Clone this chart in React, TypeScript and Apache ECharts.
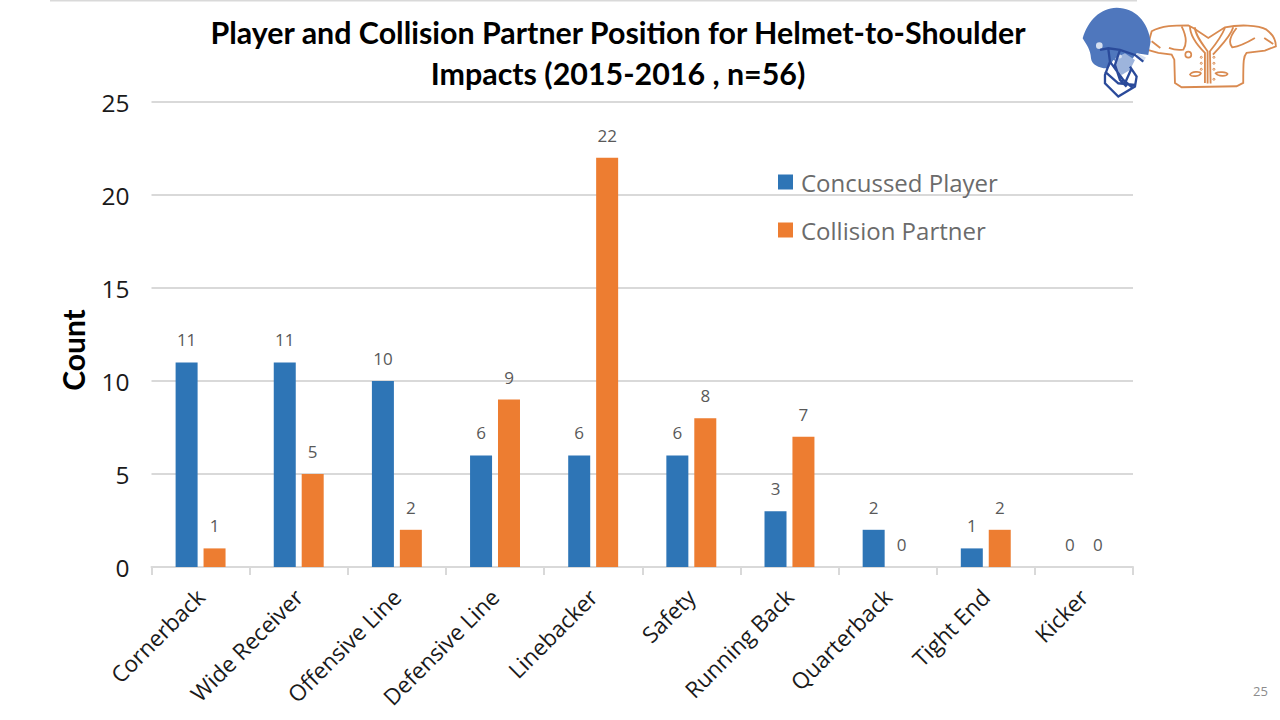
import React, { useEffect, useRef } from "react";
import * as echarts from "echarts";

const categories = ["Cornerback", "Wide Receiver", "Offensive Line", "Defensive Line", "Linebacker", "Safety", "Running Back", "Quarterback", "Tight End", "Kicker"];
const concussedPlayer = [11, 11, 10, 6, 6, 6, 3, 2, 1, 0];
const collisionPartner = [1, 5, 2, 9, 22, 8, 7, 0, 2, 0];
const titleLines = "Player and Collision Partner Position for Helmet-to-Shoulder\nImpacts (2015-2016 , n=56)";

const helmetDome = "M8 100 C25 45 60 10 110 8 C165 8 205 50 212 110 L205 150 L170 145 L140 185 L100 165 L85 190 C60 192 35 180 33 160 C32 135 20 120 8 100 Z";
const helmetShade = "M105 160 L135 145 L165 165 L150 195 L125 210 L105 190 Z";
const helmetSnaps = "M48 122 A10 10 0 1 0 68 122 A10 10 0 1 0 48 122 Z M172 145 L198 158 L190 172 L168 158 Z M112 155 A7 6 0 1 0 126 155 A7 6 0 1 0 112 155 Z";
const faceGuard = "M60 135 L85 130 L120 135 L165 150 L190 170 M85 132 L90 170 L75 210 L75 235 L115 275 L165 245 L170 215 L150 185 M75 200 L115 235 L165 240 M90 170 L130 225 L160 250 M120 135 L105 180 L120 225 L140 245 M155 190 L135 235";
const padsOutline = "M20 40 C50 22 90 22 130 22 L145 30 L190 60 L240 28 C280 20 340 20 365 35 C385 50 393 70 393 85 L360 98 L305 105 C296 115 295 125 295 195 L275 205 L110 208 L90 195 L88 125 L80 110 L40 105 L5 95 Z";
const padsDetail = "M135 25 C135 50 150 75 180 105 L180 195 M150 28 C150 50 170 75 188 100 L188 197 M240 30 C230 55 215 75 195 100 L197 197 M265 28 C255 60 225 85 204 110 M275 30 C255 55 250 75 262 88 C285 85 310 72 330 60 M385 78 L358 60 M110 25 C125 55 125 80 115 95 C100 97 85 95 72 90 M20 70 L46 90";
const padsOvals = "M121 110 A9 9 0 1 0 139 110 A9 9 0 1 0 121 110 Z M135 170 C140 160 165 160 168 166 C165 175 140 178 135 170 Z M212 166 C220 160 245 162 248 168 C245 176 220 176 212 166 Z";
const padsSnaps = "M166 118 A3 3 0 1 0 172 118 A3 3 0 1 0 166 118 Z M166 136 A3 3 0 1 0 172 136 A3 3 0 1 0 166 136 Z M166 154 A3 3 0 1 0 172 154 A3 3 0 1 0 166 154 Z M204 118 A3 3 0 1 0 210 118 A3 3 0 1 0 204 118 Z M204 136 A3 3 0 1 0 210 136 A3 3 0 1 0 204 136 Z M204 154 A3 3 0 1 0 210 154 A3 3 0 1 0 204 154 Z M204 184 A3 3 0 1 0 210 184 A3 3 0 1 0 204 184 Z";

echarts.graphic.registerShape("helmetDome", echarts.graphic.extendPath(helmetDome, {}));
echarts.graphic.registerShape("helmetShade", echarts.graphic.extendPath(helmetShade, {}));
echarts.graphic.registerShape("helmetSnaps", echarts.graphic.extendPath(helmetSnaps, {}));
echarts.graphic.registerShape("faceGuard", echarts.graphic.extendPath(faceGuard, {}));
echarts.graphic.registerShape("padsOutline", echarts.graphic.extendPath(padsOutline, {}));
echarts.graphic.registerShape("padsDetail", echarts.graphic.extendPath(padsDetail, {}));
echarts.graphic.registerShape("padsOvals", echarts.graphic.extendPath(padsOvals, {}));
echarts.graphic.registerShape("padsSnaps", echarts.graphic.extendPath(padsSnaps, {}));

const helmetPart = (type: string, style: any) => ({ type, x: 1080, y: 5, scaleX: 1 / 3, scaleY: 1 / 3, silent: true, style });
const padsPart = (type: string, style: any) => ({ type, x: 1145, y: 18, scaleX: 1 / 3, scaleY: 1 / 3, silent: true, style });

export default function App() {
  const ref = useRef<HTMLDivElement>(null);
  useEffect(() => {
    const chart = echarts.init(ref.current!, null, { renderer: "svg" });
    const label = {
      show: true, position: "top" as const, distance: 14,
      fontFamily: "Open Sans", fontSize: 17, color: "#595959",
    };
    const padStroke = "#d98a50";
    chart.setOption({
      animation: false,
      backgroundColor: "#ffffff",
      textStyle: { fontFamily: "Open Sans" },
      title: {
        text: titleLines, left: 613, top: 6, textAlign: "center",
        textStyle: { fontFamily: "Lato", fontWeight: "bold", fontSize: 30.4, lineHeight: 41, color: "#000000" },
      },
      legend: {
        orient: "vertical", left: 773, top: 165, itemWidth: 15, itemHeight: 15, itemGap: 24,
        icon: "rect",
        textStyle: { fontFamily: "Open Sans", fontSize: 24, color: "#6b6b6b", padding: [0, 0, 0, 3] },
        data: ["Concussed Player", "Collision Partner"],
      },
      grid: { left: 151.5, right: 147, top: 102, bottom: 153 },
      xAxis: {
        type: "category", data: categories,
        axisLine: { lineStyle: { color: "#d9d9d9", width: 2 } },
        axisTick: { show: true, alignWithLabel: false, length: 8, lineStyle: { color: "#d9d9d9", width: 2 } },
        axisLabel: { rotate: 45, interval: 0, margin: 26, fontFamily: "Open Sans", fontSize: 22.5, color: "#1a1a1a" },
      },
      yAxis: {
        type: "value", min: 0, max: 25, interval: 5,
        axisLine: { show: false }, axisTick: { show: false },
        axisLabel: { margin: 22, padding: [0, 0, 4, 0], fontFamily: "Open Sans", fontSize: 24.5, color: "#1a1a1a" },
        splitLine: { lineStyle: { color: "#d9d9d9", width: 2 } },
      },
      series: [
        { name: "Concussed Player", type: "bar", data: concussedPlayer, barWidth: 22, barGap: "27%", itemStyle: { color: "#2e75b6" }, label },
        { name: "Collision Partner", type: "bar", data: collisionPartner, barWidth: 22, itemStyle: { color: "#ed7d31" }, label },
      ],
      graphic: [
        { type: "line", silent: true, shape: { x1: 50, y1: 0.5, x2: 1137, y2: 0.5 }, style: { stroke: "#d9d9d9", lineWidth: 2 } },
        { type: "text", silent: true, x: 73, y: 350, rotation: Math.PI / 2, style: { text: "Count", align: "center", verticalAlign: "middle", fontFamily: "Lato", fontWeight: "bold", fontSize: 30, fill: "#000000" } },
        padsPart("padsOutline", { fill: "#ffffff", stroke: padStroke, lineWidth: 5.5 }),
        padsPart("padsDetail", { fill: "none", stroke: padStroke, lineWidth: 5.5 }),
        padsPart("padsOvals", { fill: "#ffffff", stroke: padStroke, lineWidth: 5 }),
        padsPart("padsSnaps", { fill: "none", stroke: padStroke, lineWidth: 3 }),
        helmetPart("helmetDome", { fill: "#4f77bd" }),
        helmetPart("helmetShade", { fill: "#9db4dc" }),
        helmetPart("helmetSnaps", { fill: "#d5dff0" }),
        helmetPart("faceGuard", { fill: "none", stroke: "#2a4a9a", lineWidth: 7 }),
        { type: "text", silent: true, x: 1253, y: 684, style: { text: "25", fontFamily: "Open Sans", fontSize: 13, fill: "#8c8c8c" } },
      ],
    });
    return () => chart.dispose();
  }, []);
  return <div ref={ref} style={{ position: "fixed", left: 0, top: 0, width: 1280, height: 720 }} />;
}
